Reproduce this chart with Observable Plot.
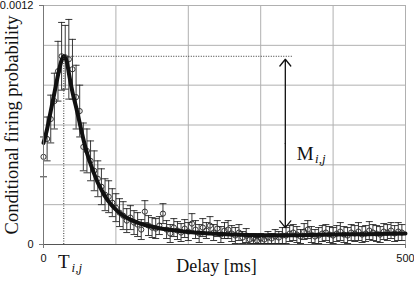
<!DOCTYPE html>
<html><head><meta charset="utf-8">
<script src="https://cdn.jsdelivr.net/npm/d3@7"></script>
<script src="https://cdn.jsdelivr.net/npm/@observablehq/plot@0.6"></script>
<style>body{margin:0;background:#fff}</style>
</head><body><div id="chart"></div>
<script>
// values in units of 1e-4 (conditional firing probability)
const UNIT = 1e-4;
const delays = [0,5,10,15,20,25,30,35,40,45,50,55,60,65,70,75,80,85,90,95,
  100,105,110,115,120,125,130,135,140,145,150,155,160,165,170,175,180,185,190,195,
  200,205,210,215,220,225,230,235,240,245,250,255,260,265,270,275,280,285,290,295,
  300,305,310,315,320,325,330,335,340,345,350,355,360,365,370,375,380,385,390,395,
  400,405,410,415,420,425,430,435,440,445,450,455,460,465,470,475,480,485,490,495];
const prob = [4.4,5.3,6.3,7.2,8.7,9.45,9.4,9.3,8.8,7.4,6.7,4.9,4.7,4.2,3.7,3.3,2.9,2.5,2.4,2.1,
  1.85,1.6,1.45,1.2,1.35,1.1,1.0,0.75,1.65,0.95,0.85,0.8,0.95,1.55,0.75,0.55,0.85,0.7,0.6,0.8,
  0.65,1.05,0.75,0.55,0.85,0.7,0.95,0.6,0.8,0.5,0.7,0.75,0.55,0.45,0.6,0.35,0.45,0.25,0.3,0.2,
  0.3,0.25,0.35,0.3,0.4,0.35,0.45,0.45,0.55,0.6,0.5,0.4,0.65,0.75,0.5,0.4,0.45,0.55,0.6,0.5,
  0.45,0.55,0.65,0.5,0.45,0.6,0.55,0.65,0.5,0.55,0.7,0.6,0.55,0.5,0.65,0.6,0.7,0.55,0.65,0.6];
const probErr = [1.0,1.1,1.2,1.4,1.5,1.7,1.6,2.0,1.5,1.6,1.3,1.2,1.1,1.0,1.0,0.9,0.9,0.8,0.8,0.7,
  0.7,0.7,0.7,0.6,0.6,0.6,0.6,0.5,0.55,0.5,0.5,0.5,0.45,0.5,0.45,0.45,0.45,0.45,0.45,0.45,
  0.45,0.5,0.45,0.45,0.45,0.4,0.45,0.4,0.4,0.4,0.4,0.45,0.4,0.4,0.4,0.3,0.35,0.2,0.25,0.15,
  0.25,0.2,0.3,0.25,0.35,0.3,0.4,0.4,0.4,0.4,0.4,0.35,0.4,0.45,0.4,0.35,0.4,0.4,0.4,0.4,
  0.4,0.4,0.45,0.4,0.4,0.4,0.4,0.45,0.4,0.4,0.45,0.4,0.4,0.4,0.4,0.4,0.4,0.4,0.45,0.4];
const fitDelays = [0,5,10,15,20,25,28,32,36,40,45,50,55,60,65,70,75,80,90,100,110,120,130,140,160,180,200,230,260,300,350,400,450,500];
const fitProb = [5.1,5.8,6.7,7.6,8.5,9.25,9.45,9.2,8.4,7.65,6.9,6.1,5.3,4.6,4.05,3.55,3.1,2.75,2.15,1.75,1.45,1.25,1.1,0.98,0.82,0.72,0.63,0.55,0.5,0.47,0.47,0.5,0.52,0.55];

const xTicks = [0, 500];
const xTickLabels = ["0", "500"];
const yTicks = [0, 0.0012];
const yTickLabels = ["0", "0.0012"];
const xGrid = [100, 200, 300, 400, 500];
const yGrid = [0.0002, 0.0004, 0.0006, 0.0008, 0.001, 0.0012];

const peakDelay = 28, peakProb = 9.45, dottedEnd = 345;
const arrowDelay = 334, arrowTop = 9.3, arrowBottom = 0.85;

const pts = delays.map((t, i) => ({t, v: prob[i] * UNIT, lo: (prob[i] - probErr[i]) * UNIT, hi: (prob[i] + probErr[i]) * UNIT}));
const fit = fitDelays.map((t, i) => ({t, v: fitProb[i] * UNIT}));
const arrowMid = (arrowTop + arrowBottom) / 2 * UNIT;
const arrows = [
  {x: arrowDelay, y1: arrowMid, y2: arrowTop * UNIT},
  {x: arrowDelay, y1: arrowMid, y2: arrowBottom * UNIT}
];
const capSymbol = {draw(ctx) { ctx.moveTo(-3.5, 0); ctx.lineTo(3.5, 0); }};
const serif = "Liberation Serif, Times New Roman, serif";

const chart = Plot.plot({
  width: 414, height: 282,
  marginLeft: 43, marginRight: 9, marginTop: 5, marginBottom: 38,
  style: {fontFamily: "Liberation Sans, Arial, sans-serif", fontSize: "11px", background: "#fff", color: "#111", overflow: "visible"},
  x: {domain: [0, 500]},
  y: {domain: [0, 0.0012]},
  marks: [
    Plot.ruleX(xGrid, {stroke: "#b0b0b0", strokeWidth: 1}),
    Plot.ruleY(yGrid, {stroke: "#b0b0b0", strokeWidth: 1}),
    Plot.ruleX(pts, {x: "t", y1: "lo", y2: "hi", stroke: "#222", strokeWidth: 0.9}),
    Plot.dot(pts, {x: "t", y: "hi", symbol: capSymbol, stroke: "#222", fill: "none", strokeWidth: 0.9}),
    Plot.dot(pts, {x: "t", y: "lo", symbol: capSymbol, stroke: "#222", fill: "none", strokeWidth: 0.9}),
    Plot.dot(pts, {x: "t", y: "v", r: 2.6, stroke: "#222", fill: "none", strokeWidth: 0.9}),
    Plot.line(fit, {x: "t", y: "v", curve: "monotone-x", stroke: "#111", strokeWidth: 4}),
    Plot.ruleX([peakDelay], {y1: 0, y2: peakProb * UNIT, stroke: "#333", strokeDasharray: "1,1.5"}),
    Plot.ruleY([peakProb * UNIT], {x1: peakDelay, x2: dottedEnd, stroke: "#333", strokeDasharray: "1,1.5"}),
    Plot.arrow(arrows, {x1: "x", x2: "x", y1: "y1", y2: "y2", stroke: "#111", strokeWidth: 1.3, headLength: 10, headAngle: 78, insetStart: 0, insetEnd: 0}),
    Plot.ruleX([0], {stroke: "#777"}),
    Plot.ruleY([0], {stroke: "#555"}),
    Plot.axisX(xTicks, {tickFormat: d => xTickLabels[xTicks.indexOf(d)], tickSize: 4, tickPadding: 6, stroke: "#777", label: null}),
    Plot.axisY(yTicks, {tickFormat: d => yTickLabels[yTicks.indexOf(d)], tickSize: 4, tickPadding: 6, stroke: "#777", label: null}),
    Plot.text(["Conditional firing probability"], {frameAnchor: "left", textAnchor: "middle", rotate: -90, dx: -31, fontSize: 18.5, fontFamily: serif}),
    Plot.text(["Delay [ms]"], {frameAnchor: "bottom", dx: -8, dy: 27, fontSize: 18, fontFamily: serif}),
    Plot.text([peakDelay], {x: d => d, y: 0, text: () => "T", dy: 17.5, fontSize: 19, fontFamily: serif}),
    Plot.text([peakDelay], {x: d => d, y: 0, text: () => "i,j", dx: 13, dy: 23, fontSize: 13, fontStyle: "italic", fontFamily: serif}),
    Plot.text([arrowDelay], {x: d => d, y: arrowMid, text: () => "M", dx: 20, dy: 10, fontSize: 19, fontFamily: serif}),
    Plot.text([arrowDelay], {x: d => d, y: arrowMid, text: () => "i,j", dx: 35, dy: 15, fontSize: 13, fontStyle: "italic", fontFamily: serif})
  ]
});
document.getElementById("chart").append(chart);
</script>
</body></html>
